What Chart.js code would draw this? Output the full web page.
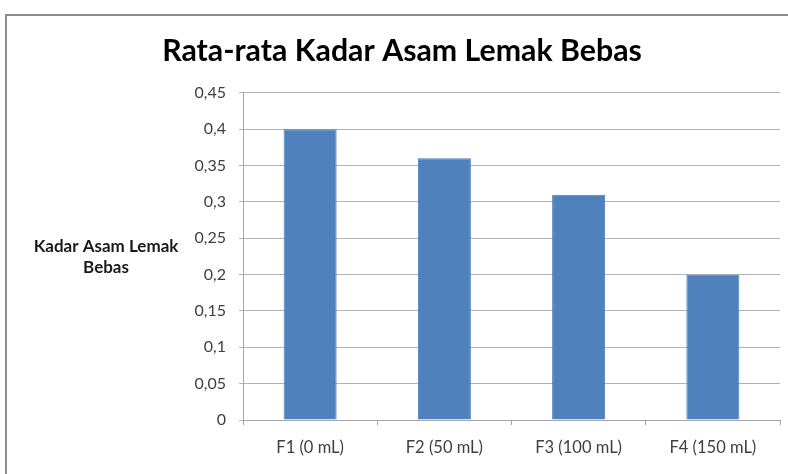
<!DOCTYPE html>
<html>
<head>
<meta charset="utf-8">
<script src="https://cdn.jsdelivr.net/npm/chart.js@4"></script>
<style>
html,body{margin:0;padding:0;background:#fff;}
#wrap{width:788px;height:474px;position:relative;}
</style>
</head>
<body>
<div id="wrap"><canvas id="c" width="788" height="474"></canvas></div>
<script>
const categories = ["F1 (0 mL)", "F2 (50 mL)", "F3 (100 mL)", "F4 (150 mL)"];
const values = [0.4, 0.36, 0.31, 0.2];
const chartTitle = "Rata-rata Kadar Asam Lemak Bebas";
const yTitleLines = ["Kadar Asam Lemak", "Bebas"];

const FONT = "Lato, 'Liberation Sans', sans-serif";

const framePlugin = {
  id: 'frame',
  beforeDraw(chart) {
    const ctx = chart.ctx;
    ctx.save();
    ctx.fillStyle = '#fff';
    ctx.fillRect(0, 0, chart.width, chart.height);
    ctx.strokeStyle = '#8c8c8c';
    ctx.lineWidth = 2;
    ctx.beginPath();
    ctx.moveTo(6, chart.height);
    ctx.lineTo(6, 15);
    ctx.lineTo(chart.width, 15);
    ctx.stroke();
    ctx.restore();
  },
  afterDraw(chart) {
    const ctx = chart.ctx;
    ctx.save();
    ctx.fillStyle = '#1a1a1a';
    ctx.font = "bold 17px " + FONT;
    ctx.textAlign = 'center';
    ctx.textBaseline = 'middle';
    ctx.fillText(yTitleLines[0], 106, 247);
    ctx.fillText(yTitleLines[1], 106, 268);
    ctx.restore();
  }
};

new Chart(document.getElementById('c'), {
  type: 'bar',
  data: {
    labels: categories,
    datasets: [{
      data: values,
      backgroundColor: '#4F81BD',
      borderColor: '#4A7EBB',
      borderWidth: 1,
      barPercentage: 0.395,
      categoryPercentage: 1.0
    }]
  },
  options: {
    responsive: false,
    animation: false,
    devicePixelRatio: 1,
    layout: { padding: { left: 24, right: 8, top: 0, bottom: 0 } },
    plugins: {
      legend: { display: false },
      tooltip: { enabled: false },
      title: {
        display: true,
        text: chartTitle,
        color: '#000',
        font: { family: FONT, size: 30.3, weight: 'bold', lineHeight: 1.2 },
        padding: { top: 33, bottom: 23.6 }
      }
    },
    scales: {
      x: {
        grid: {
          display: true,
          drawOnChartArea: false,
          drawTicks: true,
          tickLength: 5,
          color: '#a6a6a6',
          offset: true
        },
        border: { display: true, color: '#a6a6a6' },
        ticks: {
          color: '#404040',
          font: { family: FONT, size: 16.5 },
          padding: 13,
          maxRotation: 0
        },
        afterFit(scale) { scale.height = 54; }
      },
      y: {
        min: 0,
        max: 0.45,
        grid: {
          color: '#b3b3b3',
          drawTicks: true,
          tickLength: 4
        },
        border: { display: true, color: '#a6a6a6' },
        ticks: {
          stepSize: 0.05,
          color: '#404040',
          font: { family: FONT, size: 16 },
          padding: 13,
          callback(v) {
            const r = Math.round(v * 100) / 100;
            return String(r).replace('.', ',');
          }
        },
        afterFit(scale) { scale.width = 219; }
      }
    }
  },
  plugins: [framePlugin]
});
</script>
</body>
</html>
